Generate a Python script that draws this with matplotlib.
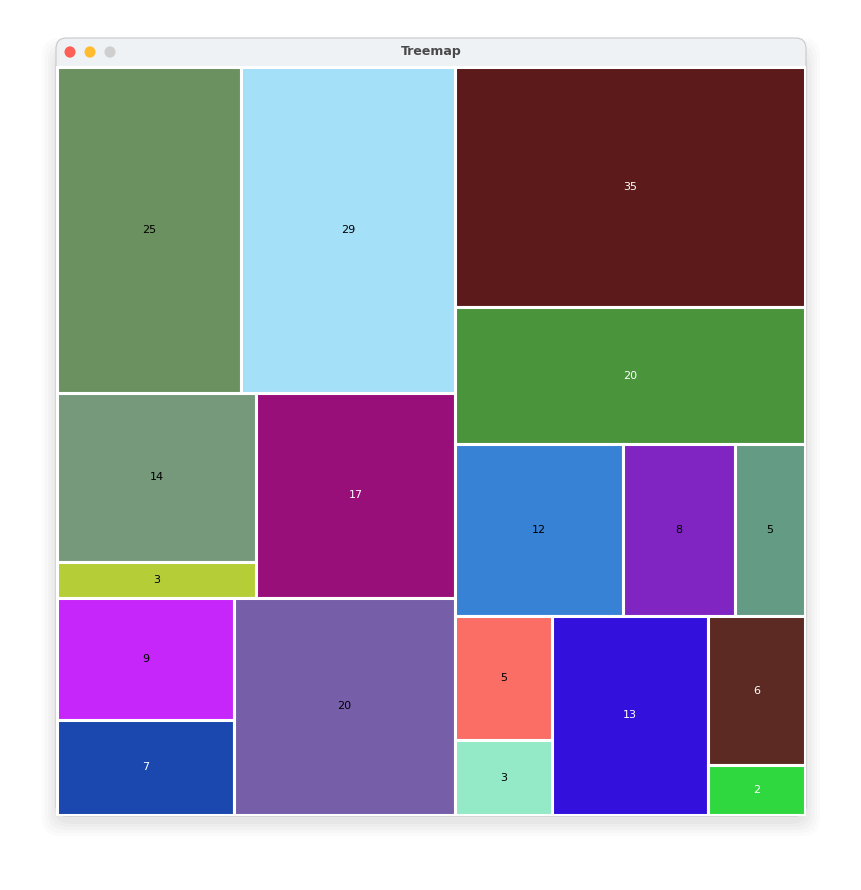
import matplotlib.pyplot as plt
from matplotlib.patches import Rectangle, FancyBboxPatch, Circle

values = [25, 29, 14, 3, 17, 9, 7, 20, 35, 20, 12, 8, 5, 5, 3, 13, 6, 2]
colors = ['#6c9160', '#a4e0f8', '#76997c', '#b5ce38', '#990f7a', '#c726fa', '#1b48ae', '#765fa8',
          '#5c1a1a', '#4a943c', '#3882d6', '#8025c2', '#649b84', '#fa6e66', '#94eac6', '#3310dc',
          '#5c2a22', '#30d840']
text_colors = ['black', 'black', 'black', 'black', 'white', 'black', 'white', 'black',
               'white', 'white', 'black', 'black', 'black', 'black', 'black', 'white',
               'white', 'white']

# layout tree: ('h', ...) side by side, ('v', ...) stacked top to bottom, int = leaf index
tree = ('h',
        ('v', ('h', 0, 1), ('h', ('v', 2, 3), 4), ('h', ('v', 5, 6), 7)),
        ('v', 8, 9, ('h', 10, 11, 12), ('h', ('v', 13, 14), 15, ('v', 16, 17))))


def total(node):
    if isinstance(node, int):
        return values[node]
    return sum(total(c) for c in node[1:])


def layout(node, x, y, w, h, out):
    if isinstance(node, int):
        out.append((node, x, y, w, h))
        return
    s = total(node)
    if node[0] == 'h':
        cx = x
        for c in node[1:]:
            cw = w * total(c) / s
            layout(c, cx, y, cw, h, out)
            cx += cw
    else:
        cy = y + h
        for c in node[1:]:
            ch = h * total(c) / s
            cy -= ch
            layout(c, x, cy, w, ch, out)


rects = []
layout(tree, 0, 0, 1, 1, rects)

fig = plt.figure(figsize=(8.62, 8.9), dpi=100)
W, H = 862, 890


def add(p):
    p.set_zorder(-10)
    fig.patches.append(p)


# shadow
for i, a in enumerate([0.015, 0.015, 0.02, 0.02, 0.025]):
    d = 14 - i * 3
    add(FancyBboxPatch(((56 - d) / W, (890 - 816 - d - 6) / H), (750 + 2 * d) / W,
                       (770 + 2 * d) / H, boxstyle='round,pad=0,rounding_size=0.02',
                       transform=fig.transFigure, fc='black', ec='none', alpha=a))
# window
add(FancyBboxPatch((56 / W, (890 - 816) / H), 750 / W, 778 / H,
                   boxstyle='round,pad=0,rounding_size=0.012',
                   transform=fig.transFigure, fc='#eff2f5', ec='#c8c8c8', lw=0.8))
add(Rectangle((56 / W, (890 - 816) / H), 750 / W, 750 / H,
              transform=fig.transFigure, fc='white', ec='none'))
fig.text(431 / W, 1 - 52 / H, 'Treemap', ha='center', va='center', fontsize=9,
         fontweight='bold', color='#4a4a4a')
for cx, c in [(70, '#fe5f57'), (90, '#febc2e'), (110, '#cfcfcf')]:
    fig.patches.append(Circle((cx / W, 1 - 52 / H), 5.5 / W, transform=fig.transFigure,
                              fc=c, ec='none'))

ax = fig.add_axes([57 / W, 75 / H, 748 / W, 748 / H])
for i, x, y, w, h in rects:
    ax.add_patch(Rectangle((x, y), w, h, fc=colors[i], ec='white', lw=2.2))
    ax.text(x + w / 2, y + h / 2, str(values[i]), ha='center', va='center',
            fontsize=8, color=text_colors[i])
ax.set_xlim(0, 1)
ax.set_ylim(0, 1)
ax.axis('off')

fig.savefig('out.png', dpi=100)
